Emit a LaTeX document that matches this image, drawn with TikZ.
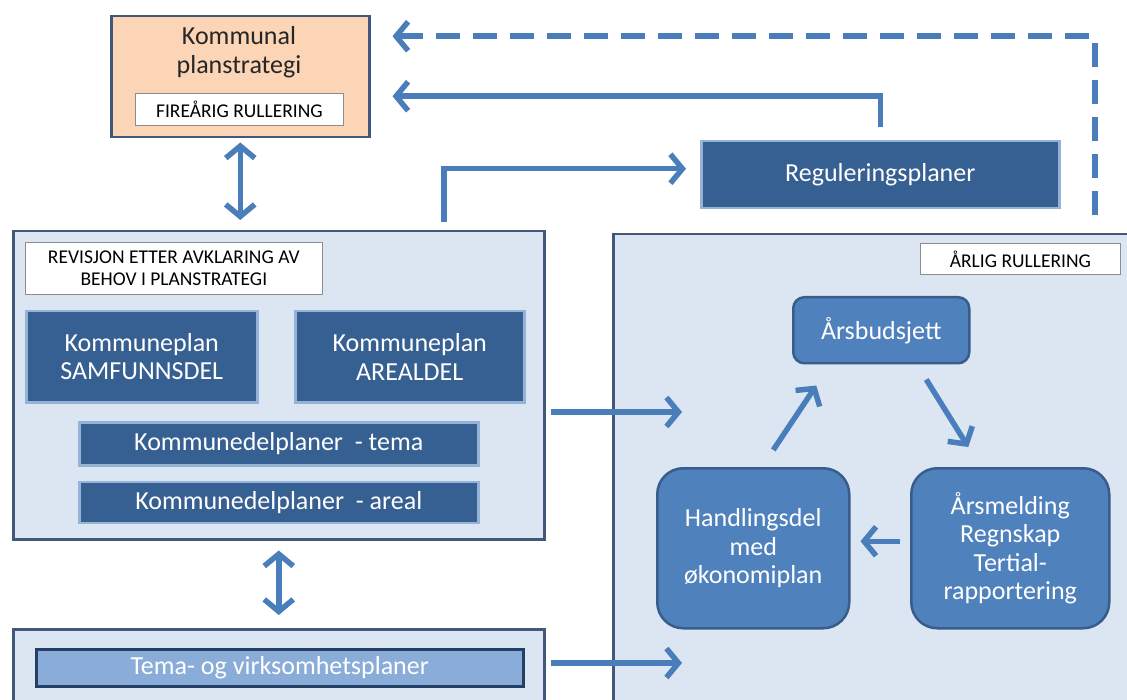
\documentclass[tikz,border=0pt]{standalone}
\usepackage{fontspec}
\setmainfont{Carlito}
\usetikzlibrary{arrows.meta,positioning}

\definecolor{framecol}{HTML}{41587A}
\definecolor{panelcol}{HTML}{DCE6F2}
\definecolor{darkcol}{HTML}{376092}
\definecolor{edgecol}{HTML}{95B3D7}
\definecolor{loopcol}{HTML}{4F81BD}
\definecolor{loopedge}{HTML}{385D8A}
\definecolor{arrowcol}{HTML}{4A7EBB}
\definecolor{peachcol}{HTML}{FBD5B5}
\definecolor{lightcol}{HTML}{8AACD8}
\definecolor{navycol}{HTML}{243F66}

\begin{document}
\begin{tikzpicture}[
        x=1pt, y=-1pt,
        panel/.style={rectangle, draw=framecol, fill=panelcol, line width=2.5pt, anchor=north west, inner sep=0pt},
        tag/.style={rectangle, draw=black!45, fill=white, line width=0.8pt, anchor=north west, inner sep=0pt, align=center, font=\fontsize{19.5}{22}\selectfont},
        plan/.style={rectangle, draw=edgecol, fill=darkcol, line width=2.5pt, anchor=north west, inner sep=0pt, align=center, text=white, font=\fontsize{26}{28.5}\selectfont},
        loopbox/.style={rectangle, draw=loopedge, fill=loopcol, line width=2.5pt, anchor=north west, inner sep=0pt, align=center, text=white, font=\fontsize{26}{28.5}\selectfont},
        title/.style={align=center, inner sep=0pt, text=black!85, font=\fontsize{26}{28.5}\selectfont},
        arrow/.style={-{Straight Barb[length=12pt, width=29pt]}, line width=5.5pt, draw=arrowcol},
        twoway/.style={{Straight Barb[length=12pt, width=29pt]}-{Straight Barb[length=12pt, width=29pt]}, line width=5.5pt, draw=arrowcol}
    ]
    \useasboundingbox (0,0) rectangle (1127,700);

    % Panels first, so everything else sits on top
    \node[panel, fill=peachcol, minimum width=258pt, minimum height=121pt] (strategy) at (110,15) {};
    \node[panel, minimum width=531pt, minimum height=308pt] (revision) at (12,230) {};
    \node[panel, minimum width=531pt, minimum height=100pt] (themes) at (12,628) {};
    \node[panel, minimum width=540pt, minimum height=500pt] (annual) at (612,233) {};

    % Kommunal planstrategi
    \node[title] (strategy-title) at (239,52) {Kommunal\\planstrategi};
    \node[tag, minimum width=208pt, minimum height=32pt] (strategy-tag) at (135,93) {FIREÅRIG RULLERING};

    % Kommuneplan
    \node[tag, minimum width=297pt, minimum height=52pt] (revision-tag) at (25,242) {REVISJON ETTER AVKLARING AV\\BEHOV I PLANSTRATEGI};
    \node[plan, minimum width=231pt, minimum height=91pt] (plan-society) at (25,310) {Kommuneplan\\SAMFUNNSDEL};
    \node[plan, minimum width=229pt, minimum height=91pt] (plan-land) at (294,310) {Kommuneplan\\AREALDEL};
    \node[plan, minimum width=399pt, minimum height=43pt] (sub-theme) at (78,421) {Kommunedelplaner\ \ - tema};
    \node[plan, minimum width=399pt, minimum height=41pt, below=14pt of sub-theme] (sub-land) {Kommunedelplaner\ \ - areal};

    % Tema- og virksomhetsplaner
    \node[plan, draw=navycol, fill=lightcol, minimum width=487pt, minimum height=37pt] (theme-plans) at (35,648) {Tema- og virksomhetsplaner};

    % Reguleringsplaner
    \node[plan, minimum width=358pt, minimum height=67pt] (zoning) at (700,140) {Reguleringsplaner};

    % Annual cycle
    \node[tag, minimum width=200pt, minimum height=31pt] (annual-tag) at (920,243) {ÅRLIG RULLERING};
    \node[loopbox, rounded corners=11pt, minimum width=176pt, minimum height=66pt] (budget) at (792,296) {Årsbudsjett};
    \node[loopbox, rounded corners=26pt, minimum width=192pt, minimum height=160pt] (action) at (656,467) {Handlingsdel\\med\\økonomiplan};
    \node[loopbox, rounded corners=26pt, minimum width=198pt, minimum height=160pt] (report) at (910,467) {Årsmelding\\Regnskap\\Tertial-\\rapportering};

    % Free ends of the arrows into the annual panel and of the dashed return
    \coordinate (annual-in-top) at (682,412);
    \coordinate (annual-in-bottom) at (682,663);
    \coordinate (feedback-start) at (1095,215);

    % Connectors
    \draw[twoway] ([yshift=-4pt]strategy.south) -- ([yshift=10pt]strategy.south |- revision.north);
    \draw[twoway] ([yshift=-10pt]revision.south) -- ([yshift=13pt]themes.north);
    \draw[arrow] ([xshift=5pt]revision.east |- annual-in-top) -- (annual-in-top);
    \draw[arrow] ([xshift=5pt]themes.east |- annual-in-bottom) -- (annual-in-bottom);
    \draw[arrow] ([xshift=165pt, yshift=8pt]revision.north) |- ([xshift=-14pt, yshift=6pt]zoning.west);
    \draw[arrow] ([yshift=13pt]zoning.north) |- ([xshift=22pt, yshift=-19.5pt]strategy.east);
    \draw[arrow, dash pattern=on 24pt off 13pt] (feedback-start) |- ([xshift=22pt, yshift=40.5pt]strategy.east);

    \draw[arrow] ([xshift=20pt, yshift=17pt]action.north) -- ([xshift=-65pt, yshift=-21pt]budget.south);
    \draw[arrow] ([xshift=45pt, yshift=-15pt]budget.south) -- ([xshift=-42pt, yshift=20pt]report.north);
    \draw[arrow] ([xshift=-10pt, yshift=7pt]report.west) -- ([xshift=10pt, yshift=7pt]action.east);
\end{tikzpicture}
\end{document}
